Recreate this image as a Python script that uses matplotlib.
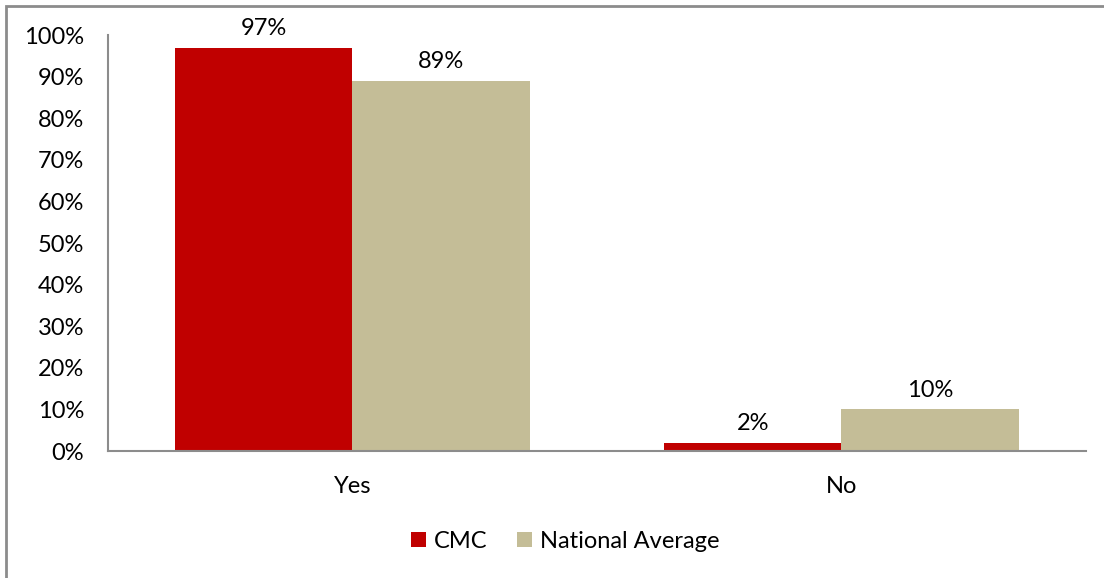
import matplotlib.pyplot as plt
import numpy as np

plt.rcParams['font.family'] = ['Lato', 'DejaVu Sans']

categories = ['Yes', 'No']
series_names = ['CMC', 'National Average']
cmc = [97, 2]
national = [89, 10]
colors = ['#C00000', '#C4BD97']

fig = plt.figure(figsize=(11.04, 5.78), dpi=100)
ax = fig.add_axes([0.0978, 0.2197, 0.8859, 0.7197])

x = np.arange(len(categories))
w = 0.3627
b1 = ax.bar(x - w / 2, cmc, w, color=colors[0], label=series_names[0])
b2 = ax.bar(x + w / 2, national, w, color=colors[1], label=series_names[1])

fs = 17
for bars, vals in ((b1, cmc), (b2, national)):
    for rect, v in zip(bars, vals):
        ax.text(rect.get_x() + rect.get_width() / 2, v + 2.0, f'{v}%',
                ha='center', va='bottom', fontsize=fs)

ax.set_xlim(-0.5, 1.5)
ax.set_ylim(0, 100)
ax.set_yticks(range(0, 101, 10))
ax.set_yticklabels([f'{t}%' for t in range(0, 101, 10)], fontsize=fs)
ax.set_xticks(x)
ax.set_xticklabels(categories, fontsize=fs)
ax.tick_params(axis='y', length=0, pad=17)
ax.tick_params(axis='x', length=0, pad=18)
for s in ('top', 'right'):
    ax.spines[s].set_visible(False)
for s in ('left', 'bottom'):
    ax.spines[s].set_color('#8C8C8C')
    ax.spines[s].set_linewidth(1.5)

ax.legend(loc='center', bbox_to_anchor=(0.512, 0.064), bbox_transform=fig.transFigure,
          ncol=2, frameon=False, fontsize=fs, handlelength=0.62, handleheight=0.62,
          columnspacing=1.25, handletextpad=0.35)

# outer chart border (only left/top visible in the crop)
fig.patches.append(plt.Rectangle((0.0055, -0.1), 1.2, 1.09, transform=fig.transFigure,
                                 fill=False, edgecolor='#8C8C8C', linewidth=2))

fig.savefig('out.png', dpi=100)
